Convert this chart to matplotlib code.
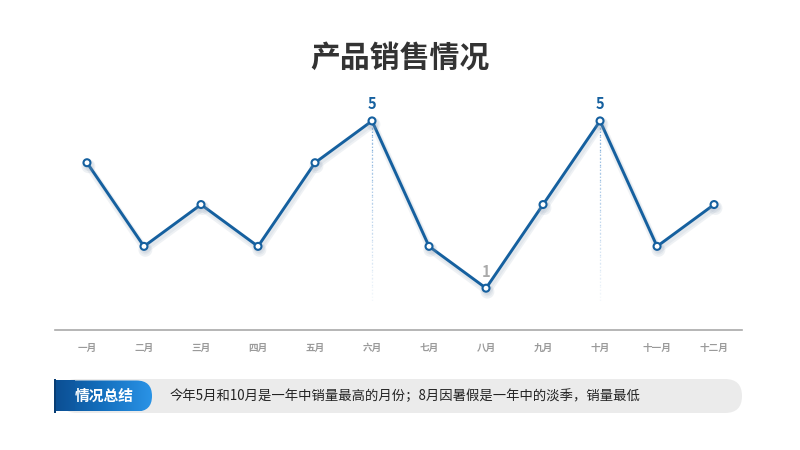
import matplotlib
matplotlib.use("Agg")
import matplotlib.pyplot as plt
import matplotlib.patheffects as pe
from matplotlib.patches import FancyBboxPatch
from matplotlib.colors import LinearSegmentedColormap
import numpy as np

plt.rcParams['font.family'] = ['Noto Sans CJK SC', 'DejaVu Sans']

# ---------------- data ----------------
months = ["一月", "二月", "三月", "四月", "五月", "六月",
          "七月", "八月", "九月", "十月", "十一月", "十二月"]
sales = [4, 2, 3, 2, 4, 5, 2, 1, 3, 5, 2, 3]
title = "产品销售情况"
tag_text = "情况总结"
summary = "今年5月和10月是一年中销量最高的月份；8月因暑假是一年中的淡季，销量最低"

LINE = "#15609f"
W, H = 800, 450

fig = plt.figure(figsize=(8, 4.5), dpi=100)
fig.patch.set_facecolor("white")

# background / decoration axes in pixel coordinates
bg = fig.add_axes([0, 0, 1, 1], zorder=0)
bg.set_xlim(0, W)
bg.set_ylim(H, 0)
bg.axis("off")

# chart axes
x = np.arange(len(months))
ax_left, ax_right = 55, 742
ax_top, ax_bot = 100, 330
ax = fig.add_axes([ax_left / W, 1 - ax_bot / H, (ax_right - ax_left) / W, (ax_bot - ax_top) / H], zorder=2)
ax.patch.set_alpha(0)
ax.set_xlim(-0.561, 11.49)
ax.set_ylim(0, 5.5)

ax.plot(x, sales, color=LINE, lw=2.1, zorder=3,
        marker="o", markersize=5, markerfacecolor="white",
        markeredgecolor=LINE, markeredgewidth=1.5,
        path_effects=[pe.SimpleLineShadow(offset=(1, -2.5), shadow_color="#8da0b5", alpha=0.14, linewidth=5),
                      pe.SimpleLineShadow(offset=(1, -2), shadow_color="#8da0b5", alpha=0.12, linewidth=3),
                      pe.Normal()])

vmax, vmin = max(sales), min(sales)
for i, v in enumerate(sales):
    if v == vmax:
        # fading dotted guide line
        ys = np.linspace(v, 0.7, 25)
        for k in range(len(ys) - 1):
            ax.plot([i, i], [ys[k], ys[k + 1]], color="#6fa3d6", lw=0.9, ls=(0, (1, 1.5)),
                    alpha=0.9 * (1 - k / (len(ys) - 1)) + 0.05, zorder=1)
        ax.annotate(str(v), (i, v), xytext=(0, 6.5), textcoords="offset points",
                    ha="center", va="bottom", fontsize=10.5, fontweight="bold", color=LINE)
    elif v == vmin:
        ax.annotate(str(v), (i, v), xytext=(0, 6), textcoords="offset points",
                    ha="center", va="bottom", fontsize=10.5, fontweight="bold", color="#aaaaaa")

for s in ["top", "right", "left"]:
    ax.spines[s].set_visible(False)
ax.spines["bottom"].set_color("#a9a9a9")
ax.spines["bottom"].set_linewidth(1.2)
ax.set_yticks([])
ax.set_xticks(x)
ax.set_xticklabels(months, fontsize=6.9, color="#9a9a9a", fontweight="bold")
ax.tick_params(axis="x", length=0, pad=9)

# title
fig.text(0.5, 1 - 58 / H, title, ha="center", va="center", fontsize=21.5,
         fontweight="bold", color="#333333")

# summary bar
bar = FancyBboxPatch((60, 379), 682, 34, boxstyle="round,pad=0,rounding_size=17",
                     facecolor="#ebebeb", edgecolor="none", zorder=1)
bg.add_patch(bar)

tag = FancyBboxPatch((55, 380.5), 97, 31, boxstyle="round,pad=0,rounding_size=15.5",
                     facecolor="none", edgecolor="none", zorder=2)
bg.add_patch(tag)
grad = np.linspace(0, 1, 256).reshape(1, -1)
cmap = LinearSegmentedColormap.from_list("tag", ["#0b4f93", "#1470bf", "#2a93e6"])
im = bg.imshow(grad, cmap=cmap, extent=(55, 152, 411.5, 380.5), aspect="auto", zorder=3)
im.set_clip_path(tag)
# square left end of the tag (gradient continued)
im2 = bg.imshow(grad[:, :60], cmap=LinearSegmentedColormap.from_list("tag2", ["#0b4f93", "#0f5aa3"]),
                extent=(55, 75, 411.5, 380.5), aspect="auto", zorder=3)
# small dark fold at left edge
fold = plt.Rectangle((53.5, 379), 2, 34, facecolor="#083d73", edgecolor="none", zorder=3)
bg.add_patch(fold)
bg.text(104, 396, tag_text, ha="center", va="center", fontsize=10.6,
        fontweight="bold", color="white", zorder=4)

bg.text(170, 396, summary, ha="left", va="center", fontsize=9.6, color="#222222", zorder=4)

bg.set_xlim(0, W)
bg.set_ylim(H, 0)

fig.savefig("out.png", dpi=100, facecolor="white")
